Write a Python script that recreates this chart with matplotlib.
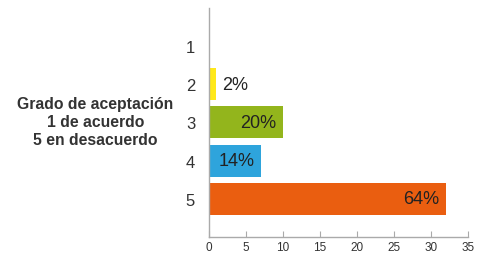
import matplotlib
matplotlib.use("Agg")
import matplotlib.pyplot as plt

# ========== DATA ==========
grados = ["1", "2", "3", "4", "5"]
respuestas = [0, 1, 10, 7, 32]
etiquetas = ["", "2%", "20%", "14%", "64%"]
colores = ["#FFFFFF", "#FFE81A", "#93B51C", "#2EA4DC", "#EA5E10"]

# where each label sits: 'out' = just right of bar, 'in_r' = inside right, 'in_l' = inside left
posicion = ["out", "out", "in_r", "in_l", "in_r"]

plt.rcParams['font.family'] = ['Liberation Sans', 'DejaVu Sans']

fig = plt.figure(figsize=(5.03, 2.55), dpi=100)
ax = fig.add_axes([0.4155, 0.067, 0.515, 0.898])

ypos = list(range(1, len(grados) + 1))
ax.barh(ypos, respuestas, height=0.84, color=colores)

for y, v, lab, p in zip(ypos, respuestas, etiquetas, posicion):
    if not lab:
        continue
    if p == "out":
        ax.annotate(lab, (v, y), xytext=(4, 0), textcoords="offset points",
                    ha="left", va="center", fontsize=13, color="#222222")
    elif p == "in_r":
        ax.annotate(lab, (v, y), xytext=(-5, 0), textcoords="offset points",
                    ha="right", va="center", fontsize=13, color="#222222")
    else:
        ax.annotate(lab, (0, y), xytext=(7, 0), textcoords="offset points",
                    ha="left", va="center", fontsize=13, color="#222222")

ax.set_ylim(6, 0)
ax.set_xlim(0, 35)
ax.set_yticks(ypos)
ax.set_yticklabels(grados)
ax.set_xticks(range(0, 36, 5))

for s in ["top", "right"]:
    ax.spines[s].set_visible(False)
for s in ["left", "bottom"]:
    ax.spines[s].set_color("#aaaaaa")
    ax.spines[s].set_linewidth(1.0)

ax.tick_params(axis="y", length=0, pad=10, labelsize=12, labelcolor="#333333")
ax.tick_params(axis="x", direction="in", length=4, color="#aaaaaa",
               labelsize=8.5, labelcolor="#333333", pad=3)

fig.text(0.19, 0.52, "Grado de aceptación\n1 de acuerdo\n5 en desacuerdo",
         ha="center", va="center", fontsize=11.3, fontweight="bold",
         color="#333333", linespacing=1.25)

fig.savefig("out.png", dpi=100)
